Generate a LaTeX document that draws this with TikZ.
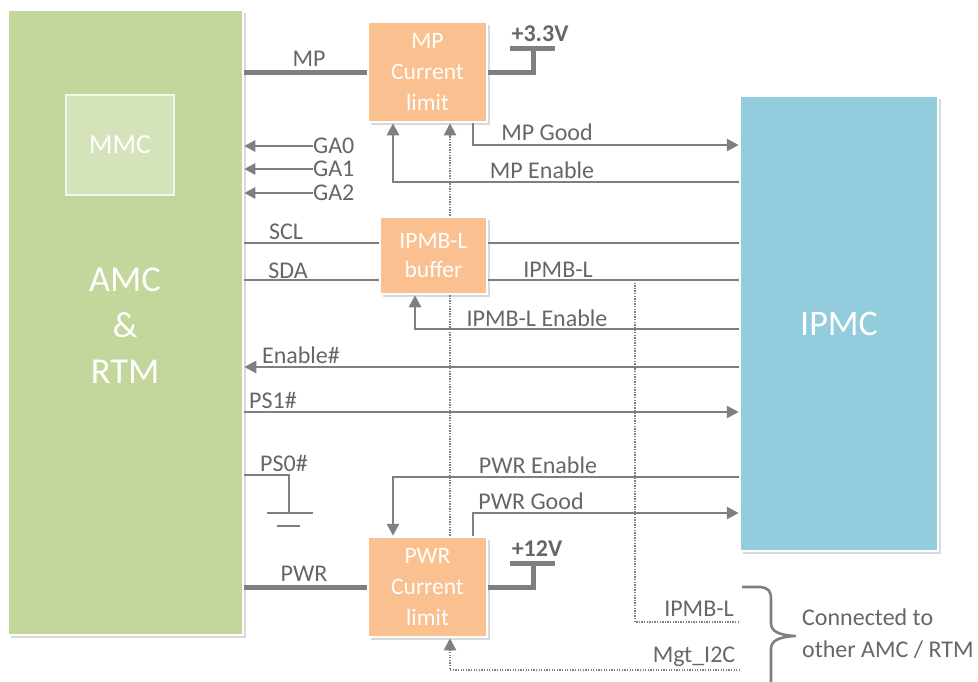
\documentclass[tikz,border=0pt]{standalone}
\usepackage{fontspec}
\setmainfont{Carlito}
\usetikzlibrary{arrows.meta,shadows,positioning}

\definecolor{amcgreen}{HTML}{C3D69B}
\definecolor{mmcgreen}{HTML}{D5E3BA}
\definecolor{ipmcblue}{HTML}{93CDDD}
\definecolor{limorange}{HTML}{FAC090}
\definecolor{wiregray}{HTML}{7F7F7F}
\definecolor{labelgray}{HTML}{666666}

\tikzset{
  block/.style={draw=white, line width=2.5pt, inner sep=0pt, text=white, align=center,
    drop shadow={shadow xshift=2.5pt, shadow yshift=-2.5pt, opacity=0.3}},
  limbox/.style={block, fill=limorange, minimum width=119pt, minimum height=100pt,
    font=\fontsize{23.5}{31}\selectfont},
  wire/.style={draw=wiregray, line width=2.6pt},
  power/.style={draw=wiregray, line width=5pt},
  bus/.style={draw=wiregray, line width=2.2pt, dash pattern=on 1.3pt off 1.3pt},
  sig/.style={wire, -{Triangle[length=12pt,width=12pt]}},
  lbl/.style={text=labelgray, font=\fontsize{24}{28}\selectfont, inner sep=0pt},
}

\begin{document}
\begin{tikzpicture}[x=1pt, y=-1pt]
\useasboundingbox (0,0) rectangle (978,681);

% Blocks
\node[block, fill=amcgreen, minimum width=235pt, minimum height=625pt] (amc) at (125.5,322.5) {};
\node[draw=white!80!amcgreen, line width=2.8pt, fill=mmcgreen, minimum width=108pt, minimum height=100pt,
  text=white, font=\fontsize{27.5}{30}\selectfont] (mmc) at (120,145) {MMC};
\node[text=white, align=center, font=\fontsize{36.5}{46}\selectfont] (amctxt) at (125,326) {AMC\\\&\\RTM};
\node[block, fill=ipmcblue, minimum width=198pt, minimum height=455pt,
  font=\fontsize{36}{40}\selectfont] (ipmc) at (839,323.5) {IPMC};
\node[limbox] (mplim) at (427.5,72) {MP\\Current\\limit};
\node[block, fill=limorange, minimum width=107pt, minimum height=77pt,
  font=\fontsize{23.5}{29}\selectfont] (buf) at (433.5,255.5) {IPMB-L\\buffer};
\node[limbox] (pwrlim) at (427.5,587) {PWR\\Current\\limit};

% MP supply
\draw[power] (amc.east |- mplim.west) -- (mplim.west);
\coordinate (v33) at (533,48);
\draw[power] (mplim.east) -| (v33);
\draw[power] ([xshift=-23pt]v33) -- ([xshift=22pt]v33);
\node[lbl, font=\fontsize{24}{28}\selectfont\bfseries] (v33txt) at (540,34) {+3.3V};
\node[lbl] at (309,59) {MP};

% MP good / enable
\draw[sig] (473,0 |- mplim.south) |- (ipmc.west |- 0,145);
\node[lbl] at (547,132) {MP Good};
\draw[sig] (ipmc.west |- 0,182) -| (393,0 |- mplim.south);
\node[lbl] at (542,170) {MP Enable};

% Geographic address
\foreach \n/\y in {0/146, 1/169, 2/193} {
  \node[lbl, anchor=west] (ga\n) at (313,\y) {GA\n};
  \draw[wire, -{Triangle[length=11pt,width=11pt]}] (ga\n.west) -- (amc.east |- ga\n.west);
}

% IPMB-L
\draw[wire] (amc.east |- 0,243) -- (buf.west |- 0,243);
\draw[wire] (buf.east |- 0,243) -- (ipmc.west |- 0,243);
\draw[wire] (amc.east |- 0,280) -- (buf.west |- 0,280);
\draw[wire] (buf.east |- 0,280) -- (ipmc.west |- 0,280);
\node[lbl] at (286,232) {SCL};
\node[lbl] at (288,271) {SDA};
\node[lbl] at (558,270) {IPMB-L};
\draw[sig] (ipmc.west |- 0,329) -| (415,0 |- buf.south);
\node[lbl] at (537,318) {IPMB-L Enable};

% Enable / presence
\draw[sig] (ipmc.west |- 0,367) -- (amc.east |- 0,367);
\node[lbl] at (301,355) {Enable\#};
\draw[sig] (amc.east |- 0,412) -- (ipmc.west |- 0,412);
\node[lbl] at (273,400) {PS1\#};
\coordinate (gnd) at (289,513);
\draw[wire] (amc.east |- 0,475) -| (gnd);
\draw[wire] ([xshift=-22pt]gnd) -- ([xshift=24pt]gnd);
\draw[wire] (277,526) -- (300,526);
\node[lbl] at (284,463) {PS0\#};

% PWR enable / good
\draw[sig] (ipmc.west |- 0,477) -| (393,0 |- pwrlim.north);
\node[lbl] at (538,465) {PWR Enable};
\draw[sig] (473,0 |- pwrlim.north) |- (ipmc.west |- 0,513);
\node[lbl] at (531,501) {PWR Good};

% PWR supply
\draw[power] (amc.east |- pwrlim.west) -- (pwrlim.west);
\coordinate (v12) at (533,563);
\draw[power] (pwrlim.east) -| (v12);
\draw[power] ([xshift=-23pt]v12) -- ([xshift=22pt]v12);
\node[lbl, font=\fontsize{24}{28}\selectfont\bfseries] at (537,549) {+12V};
\node[lbl] at (304,574) {PWR};

% Management I2C and IPMB-L to other modules
\draw[bus] (450,0 |- pwrlim.north) -- (450,0 |- buf.south);
\draw[bus, -{Triangle[length=12pt,width=12pt]}] (450,0 |- buf.north) -- (450,0 |- mplim.south);
\coordinate (mgtend) at (740,670);
\draw[bus, -{Triangle[length=12pt,width=12pt]}] (mgtend) -| (450,0 |- pwrlim.south);
\node[lbl] at (694,657) {Mgt\_I2C};
\coordinate (ipmbend) at (738,622);
\draw[bus] (635,280) |- (ipmbend);
\node[lbl] at (699,609) {IPMB-L};

% Brace
\draw[wire, line join=round] (742,587) -- (760,587) .. controls (769,588) and (771,591) .. (771,600)
  -- (771,623) .. controls (771,631) and (778,635) .. (795,636)
  .. controls (778,637) and (771,641) .. (771,649) -- (771,690);
\node[lbl, anchor=west, align=left, font=\fontsize{24}{32}\selectfont] (other) at (802,634) {Connected to\\other AMC / RTM};
\end{tikzpicture}
\end{document}
